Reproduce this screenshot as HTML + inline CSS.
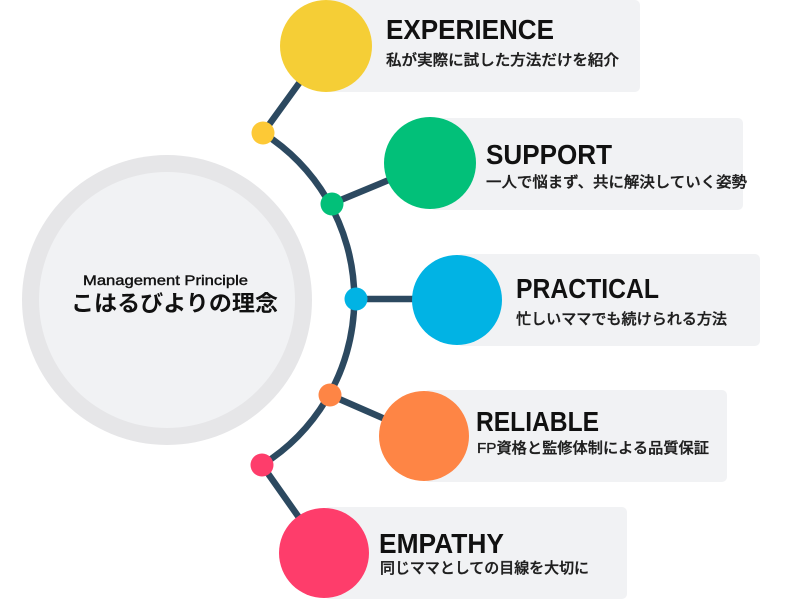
<!DOCTYPE html>
<html>
<head>
<meta charset="utf-8">
<style>
html,body{margin:0;padding:0;background:#fff;}
svg{display:block;}
.t{font-family:"Liberation Sans","Noto Sans CJK JP",sans-serif;font-weight:700;fill:#111;}
.s{font-family:"Liberation Sans","Noto Sans CJK JP",sans-serif;font-weight:500;fill:#1e1e1e;stroke:#1e1e1e;stroke-width:0.35px;}
.m{font-family:"Liberation Sans","Noto Sans CJK JP",sans-serif;font-weight:400;fill:#111;stroke:#111;stroke-width:0.4px;}
</style>
</head>
<body>
<svg width="800" height="600" viewBox="0 0 800 600" xmlns="http://www.w3.org/2000/svg">
  <!-- central circle -->
  <circle cx="167" cy="300" r="145" fill="#e6e6e8"/>
  <circle cx="167" cy="300" r="128" fill="#f1f2f4"/>
  <text class="m" x="83" y="285" font-size="14" textLength="165" lengthAdjust="spacingAndGlyphs">Management Principle</text>
  <text class="t" x="71" y="311" font-size="22" textLength="207" lengthAdjust="spacingAndGlyphs">こはるびよりの理念</text>

  <!-- boxes -->
  <rect x="326" y="0" width="314" height="92" rx="5" fill="#f1f2f4"/>
  <rect x="430" y="118" width="313" height="92" rx="5" fill="#f1f2f4"/>
  <rect x="457" y="254" width="303" height="92" rx="5" fill="#f1f2f4"/>
  <rect x="424" y="390" width="303" height="92" rx="5" fill="#f1f2f4"/>
  <rect x="324" y="507" width="303" height="92" rx="5" fill="#f1f2f4"/>

  <!-- arc and connectors -->
  <g stroke="#2c4960" stroke-width="6.5" fill="none" stroke-linecap="round">
    <path d="M263,133 A196,196 0 0 1 262,465"/>
    <line x1="263" y1="133" x2="326" y2="46"/>
    <line x1="331" y1="204" x2="430" y2="163"/>
    <line x1="355" y1="299" x2="457" y2="299"/>
    <line x1="330" y1="395" x2="424" y2="436"/>
    <line x1="262" y1="465" x2="324" y2="553"/>
  </g>

  <!-- big circles -->
  <circle cx="326" cy="46" r="46" fill="#f5ce36"/>
  <circle cx="430" cy="163" r="46" fill="#02c079"/>
  <circle cx="457" cy="300" r="45" fill="#01b3e4"/>
  <circle cx="424" cy="436" r="45" fill="#fe8545"/>
  <circle cx="324" cy="553" r="45" fill="#fe3d6b"/>

  <!-- small dots -->
  <circle cx="263" cy="133" r="11.5" fill="#fdc936"/>
  <circle cx="332" cy="204" r="11.5" fill="#02c079"/>
  <circle cx="356" cy="299" r="11.5" fill="#01b3e4"/>
  <circle cx="330" cy="395" r="11.5" fill="#fe8545"/>
  <circle cx="262" cy="465" r="11.5" fill="#fe3d6b"/>

  <!-- titles -->
  <text class="t" x="386" y="39" font-size="28" textLength="168" lengthAdjust="spacingAndGlyphs">EXPERIENCE</text>
  <text class="t" x="486" y="164" font-size="28" textLength="126" lengthAdjust="spacingAndGlyphs">SUPPORT</text>
  <text class="t" x="516" y="298" font-size="28" textLength="143" lengthAdjust="spacingAndGlyphs">PRACTICAL</text>
  <text class="t" x="476" y="431" font-size="28" textLength="123" lengthAdjust="spacingAndGlyphs">RELIABLE</text>
  <text class="t" x="379" y="553" font-size="28" textLength="125" lengthAdjust="spacingAndGlyphs">EMPATHY</text>

  <!-- subtitles -->
  <text class="s" x="386" y="65" font-size="15" textLength="233" lengthAdjust="spacingAndGlyphs">私が実際に試した方法だけを紹介</text>
  <text class="s" x="486" y="187" font-size="15" textLength="261" lengthAdjust="spacingAndGlyphs">一人で悩まず、共に解決していく姿勢</text>
  <text class="s" x="516" y="324" font-size="15" textLength="211" lengthAdjust="spacingAndGlyphs">忙しいママでも続けられる方法</text>
  <text class="s" x="477" y="453" font-size="15" textLength="232" lengthAdjust="spacingAndGlyphs">FP資格と監修体制による品質保証</text>
  <text class="s" x="380" y="573" font-size="15" textLength="209" lengthAdjust="spacingAndGlyphs">同じママとしての目線を大切に</text>
</svg>
</body>
</html>
